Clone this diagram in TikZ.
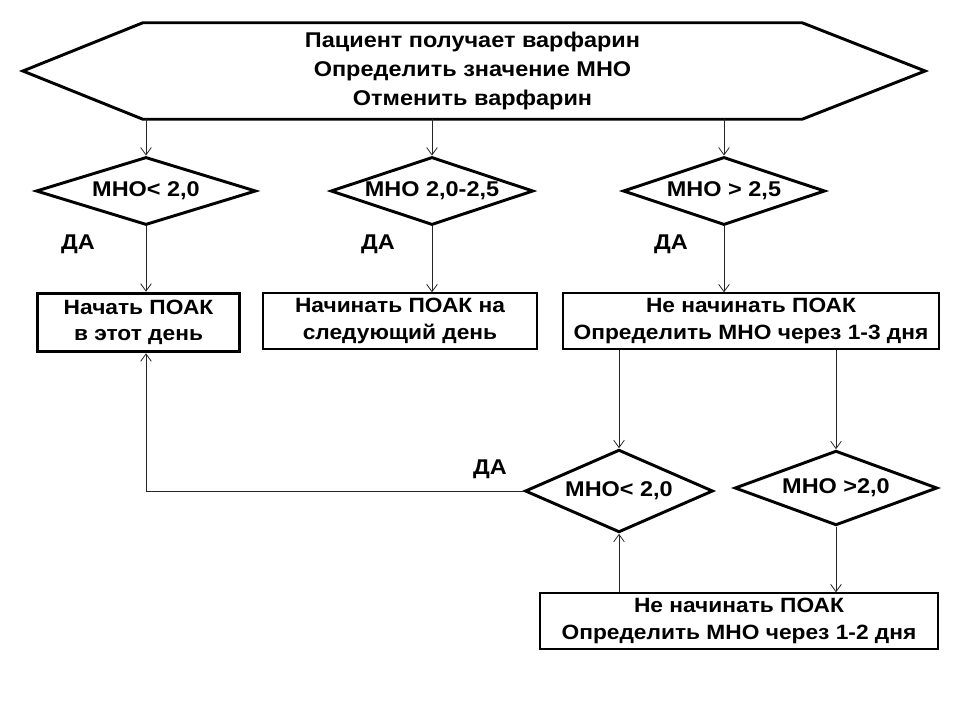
\documentclass[tikz,border=0pt]{standalone}
\usepackage{fontspec}
\setmainfont[FakeStretch=1.1]{Liberation Sans}
\usetikzlibrary{arrows.meta,shapes.geometric,calc}

\tikzset{
  txt/.style={font=\bfseries\fontsize{16}{20}\selectfont,align=center},
  cond/.style={diamond,draw,line width=2.2pt,inner sep=0pt},
  box/.style={rectangle,draw,line width=1pt,inner sep=0pt,txt,font=\bfseries\fontsize{15.5}{20}\selectfont},
  link/.style={->,>={Straight Barb[length=5.5pt,width=8pt]},line width=0.6pt,black!85}
}

\begin{document}
\begin{tikzpicture}[x=0.75pt,y=-0.75pt]
   \useasboundingbox (0,0) rectangle (960,720);
   % top block
   \node[txt,font=\bfseries\fontsize{16}{21.4}\selectfont,minimum width=494pt,minimum height=72pt,inner sep=0pt] (top) at (472.5,71)
      {Пациент получает варфарин\\Определить значение МНО\\Отменить варфарин};
   \draw[line width=2.2pt] (top.north west) -- (top.north east) -- ($(top.east)+(123,0)$)
      -- (top.south east) -- (top.south west) -- ($(top.west)+(-120,0)$) -- cycle;
   % first row of conditions
   \node[cond,minimum width=165pt,minimum height=51pt,label={[txt]center:МНО< 2,0}] (d1) at (146,191) {};
   \node[cond,minimum width=152pt,minimum height=51pt,label={[txt]center:МНО 2,0-2,5}] (d2) at (432,191) {};
   \node[cond,minimum width=151.5pt,minimum height=51pt,label={[txt]center:МНО > 2,5}] (d3) at (724,191) {};
   \node[txt] (da1) at (78,244) {ДА};
   \node[txt] (da2) at (378,244) {ДА};
   \node[txt] (da3) at (671,244) {ДА};
   % actions
   \node[box,line width=2.2pt,minimum width=152pt,minimum height=44pt] (b1) at (138.5,322.5) {Начать ПОАК\\в этот день};
   \node[box,minimum width=205.5pt,minimum height=42pt] (b2) at (400,321) {Начинать ПОАК на\\следующий день};
   \node[box,minimum width=282pt,minimum height=42pt] (b3) at (751,321) {Не начинать ПОАК\\Определить МНО через 1-3 дня};
   % second row
   \node[cond,minimum width=141pt,minimum height=62pt,label={[txt]center:МНО< 2,0}] (d4) at (619,491) {};
   \node[cond,minimum width=152pt,minimum height=56pt,label={[txt]center:МНО >2,0}] (d5) at (836,488) {};
   \node[txt] (da4) at (490,469) {ДА};
   \node[box,minimum width=298.5pt,minimum height=42pt] (b4) at (739,621) {Не начинать ПОАК\\Определить МНО через 1-2 дня};
   % arrows
   \draw[link] (d1.north |- top.south) -- (d1.north);
   \draw[link] (d2.north |- top.south) -- (d2.north);
   \draw[link] (d3.north |- top.south) -- (d3.north);
   \draw[link] (d1.south) -- (d1.south |- b1.north);
   \draw[link] (d2.south) -- (d2.south |- b2.north);
   \draw[link] (d3.south) -- (d3.south |- b3.north);
   \draw[link] (d4.north |- b3.south) -- (d4.north);
   \draw[link] (d5.north |- b3.south) -- (d5.north);
   \draw[link] (d5.south) -- (d5.south |- b4.north);
   \draw[link] (d4.south |- b4.north) -- (d4.south);
   \draw[link] (d4.west) -| (b1.south -| d1.south);
\end{tikzpicture}
\end{document}
